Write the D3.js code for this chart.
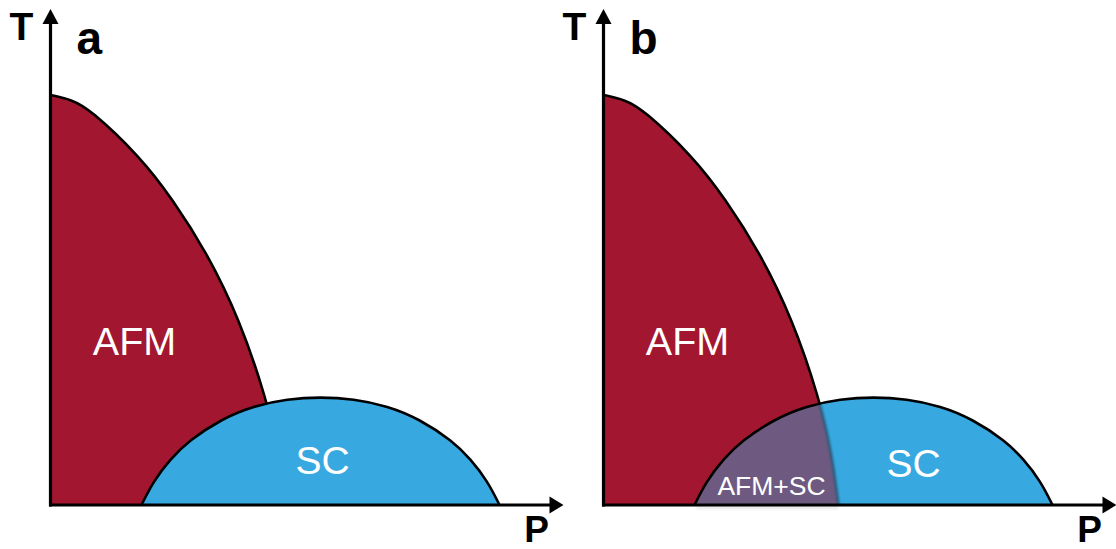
<!DOCTYPE html>
<html><head><meta charset="utf-8">
<script src="https://cdn.jsdelivr.net/npm/d3@7"></script>
<style>html,body{margin:0;padding:0;background:#fff;}svg{display:block;}</style>
</head><body>
<svg id="c" width="1116" height="549"></svg>
<script>
// Pressure (P) and temperature (T) readings of the phase boundaries (arbitrary units)
const afmP = [0, 22, 39, 89, 122, 156, 189, 216, 228, 235];
const afmT = [410, 405, 396, 349, 306, 253, 186, 106, 53, 0];
const scP  = [91, 103, 120, 138, 171, 203, 237, 270, 303, 337, 369, 402, 420, 437, 449];
const scT  = [0, 24, 46, 64, 86, 99, 106, 108, 106, 99, 86, 64, 46, 24, 0];
const panelLabels = ["a", "b"];
const axisLabels = ["T", "P"];
const phaseLabels = ["AFM", "SC", "AFM+SC"];
// label anchor points in data units, per panel
const afmLabelPos = [[84, 150], [84, 150]];
const scLabelPos = [[272, 31], [310, 28]];
const mixLabelPos = [null, [168, 10]];

const COL_AFM = "#A2162F", COL_SC = "#38A9E0", COL_MIX = "#6E5A80";
const svg = d3.select("#c");
const defs = svg.append("defs");
defs.append("filter").attr("id","blur").attr("x","-20%").attr("y","-20%").attr("width","140%").attr("height","140%")
  .append("feGaussianBlur").attr("stdDeviation", 1.1);
defs.append("filter").attr("id","blur2").attr("x","-20%").attr("y","-200%").attr("width","140%").attr("height","500%")
  .append("feGaussianBlur").attr("stdDeviation", 1.5);

const afm = afmP.map((p,i)=>({p, t: afmT[i]}));
const sc = scP.map((p,i)=>({p, t: scT[i]}));

function panel(idx, dx) {
  const x = d3.scaleLinear().domain([0, 513]).range([50.5 + dx, 563.5 + dx]);
  const y = d3.scaleLinear().domain([0, 496]).range([505, 9]);
  const g = svg.append("g");
  const crv = d3.curveBasis;
  const area = d3.area().x(d=>x(d.p)).y0(y(0)).y1(d=>y(d.t)).curve(crv);
  const line = d3.line().x(d=>x(d.p)).y(d=>y(d.t)).curve(crv);

  g.append("path").attr("d", area(afm)).attr("fill", COL_AFM);
  g.append("path").attr("d", line(afm)).attr("fill","none").attr("stroke","#000").attr("stroke-width",2.6);
  g.append("path").attr("d", area(sc)).attr("fill", COL_SC);

  if (idx === 1) {
    const cid = "clipSC" + idx;
    defs.append("clipPath").attr("id", cid).append("path").attr("d", area(sc));
    // faint shadow below the mixed region
    g.append("rect").attr("x", x(93)).attr("y", y(0)+1).attr("width", x(235)-x(93)).attr("height", 3)
      .attr("fill","#000").attr("opacity",0.1).attr("filter","url(#blur2)");
    const mg = g.append("g").attr("clip-path", `url(#${cid})`);
    mg.append("path").attr("d", area(afm)).attr("fill", COL_MIX);
    mg.append("path").attr("d", line(afm)).attr("fill","none").attr("stroke","#2C5C7C").attr("stroke-width",2.6).attr("filter","url(#blur)");
  }
  g.append("path").attr("d", line(sc)).attr("fill","none").attr("stroke","#000").attr("stroke-width",2.6);

  // axes
  const x0 = x(0), y0 = y(0);
  const xTip = x(513), yTip = y(496);
  g.append("line").attr("x1", x0-1.5).attr("y1", y0).attr("x2", xTip-10).attr("y2", y0)
    .attr("stroke","#000").attr("stroke-width",3.2);
  g.append("line").attr("x1", x0).attr("y1", y0+1.5).attr("x2", x0).attr("y2", yTip+10)
    .attr("stroke","#000").attr("stroke-width",3.2);
  g.append("path").attr("d", `M${xTip},${y0} L${xTip-14},${y0-8.5} L${xTip-14},${y0+8.5} Z`).attr("fill","#000");
  g.append("path").attr("d", `M${x0},${yTip} L${x0-8},${yTip+15} L${x0+8},${yTip+15} Z`).attr("fill","#000");

  const font = "'Liberation Sans', Arial, sans-serif";
  g.append("text").attr("x", x0-29).attr("y", 40).attr("text-anchor","middle")
    .attr("font-family", font).attr("font-weight","bold").attr("font-size", 39).text(axisLabels[0]);
  g.append("text").attr("x", x(486)).attr("y", 542).attr("text-anchor","middle")
    .attr("font-family", font).attr("font-weight","bold").attr("font-size", 37).text(axisLabels[1]);
  g.append("text").attr("x", x0+26).attr("y", 54).attr("text-anchor","start")
    .attr("font-family", font).attr("font-weight","bold").attr("font-size", 46).text(panelLabels[idx]);

  g.append("text").attr("x", x(afmLabelPos[idx][0])).attr("y", y(afmLabelPos[idx][1])).attr("text-anchor","middle")
    .attr("font-family", font).attr("font-size", 39.5).attr("fill","#fff").text(phaseLabels[0]);
  g.append("text").attr("x", x(scLabelPos[idx][0])).attr("y", y(scLabelPos[idx][1])).attr("text-anchor","middle")
    .attr("font-family", font).attr("font-size", 39).attr("fill","#fff").text(phaseLabels[1]);
  if (mixLabelPos[idx]) {
    g.append("text").attr("x", x(mixLabelPos[idx][0])).attr("y", y(mixLabelPos[idx][1])).attr("text-anchor","middle")
      .attr("font-family", font).attr("font-size", 26.5).attr("fill","#fff").text(phaseLabels[2]);
  }
}
panel(0, 0);
panel(1, 553);
</script>
</body></html>
